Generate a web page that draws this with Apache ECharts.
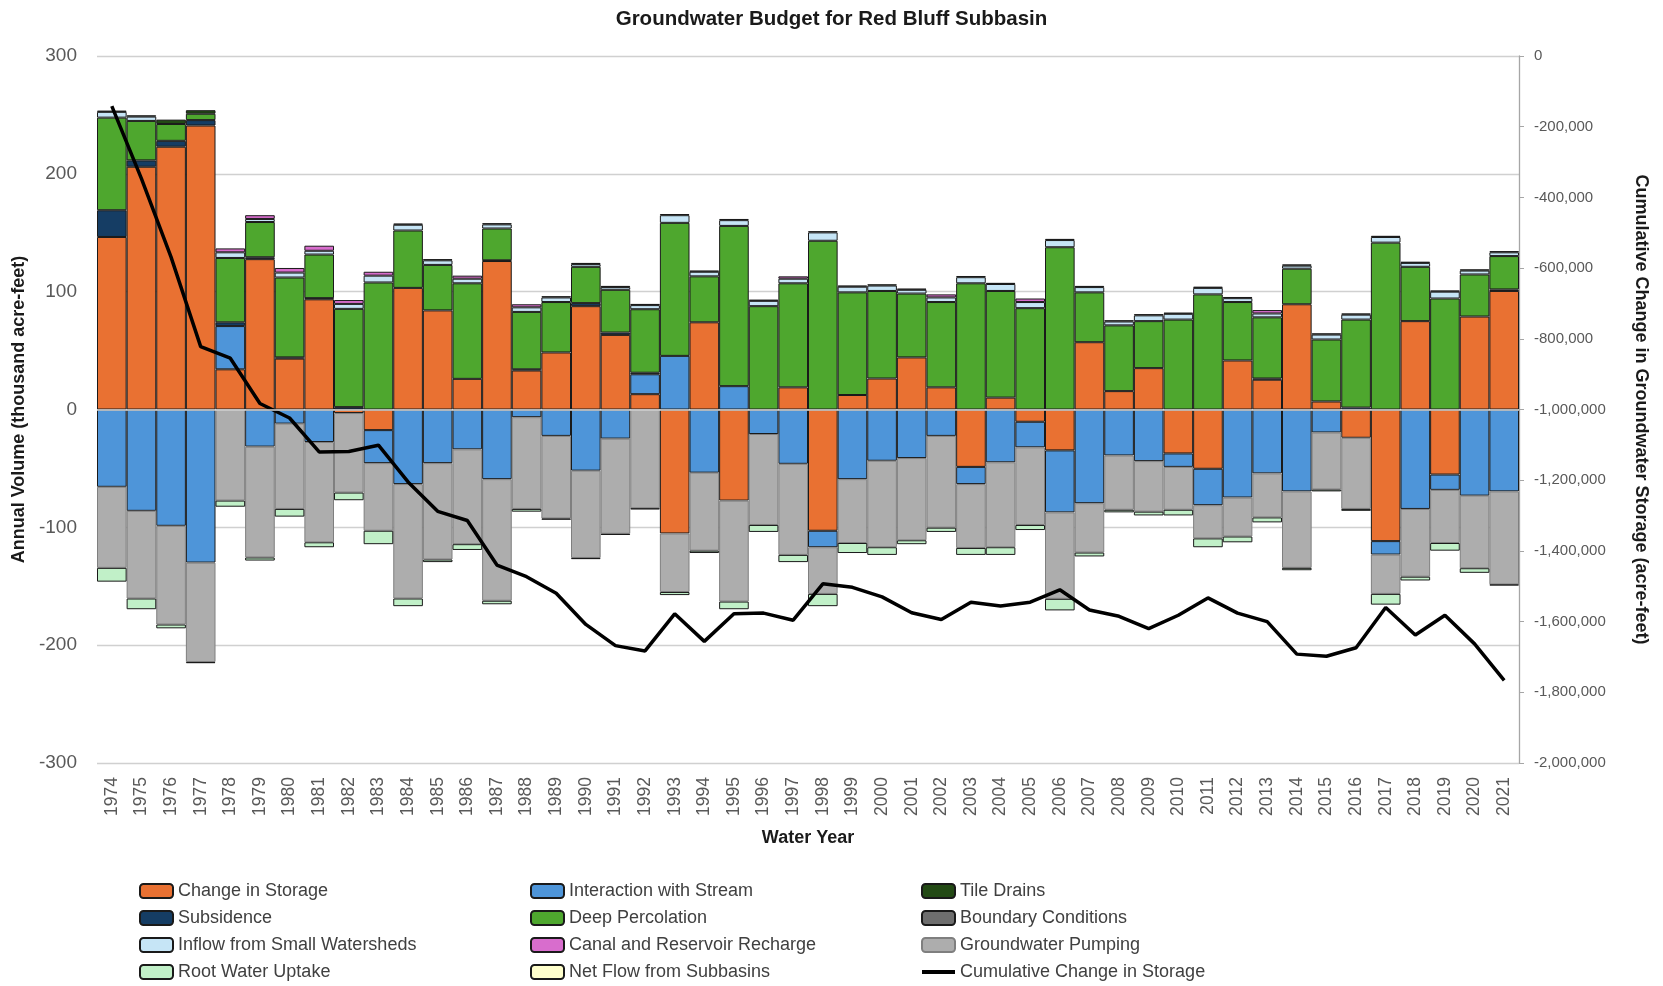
<!DOCTYPE html>
<html>
<head>
<meta charset="utf-8">
<title>Groundwater Budget for Red Bluff Subbasin</title>
<script src="https://cdn.jsdelivr.net/npm/echarts@6.0.0/dist/echarts.min.js"></script>
<style>
  html, body { margin: 0; padding: 0; background: #fff; }
  #chart { width: 1663px; height: 986px; }
</style>
</head>
<body>
<div id="chart"></div>
<script>
// water years on the category axis
var years = ['1974', '1975', '1976', '1977', '1978', '1979', '1980', '1981', '1982', '1983',
  '1984', '1985', '1986', '1987', '1988', '1989', '1990', '1991', '1992', '1993',
  '1994', '1995', '1996', '1997', '1998', '1999', '2000', '2001', '2002', '2003',
  '2004', '2005', '2006', '2007', '2008', '2009', '2010', '2011', '2012', '2013',
  '2014', '2015', '2016', '2017', '2018', '2019', '2020', '2021'];

// annual volumes, thousand acre-feet
var changeInStorage = [146.4, 206, 223, 241, 34.1, 127.6, 43.2, 93.5, -3, -17.5,
  103.2, 84.1, 26, 126, 33.1, 48.4, 87.7, 63.3, 13, -105.2,
  74, -77.3, 0, 18.8, -102.9, 12.3, 26.3, 44.2, 18.8, -48.7,
  10.1, -10.4, -34.7, 57.1, 15.6, 35.1, -37.3, -50.3, 41.6, 25.3,
  89.3, 6.8, -24, -111.7, 75, -55.2, 78.9, 100.6];
var interactionWithStream = [-65.6, -86, -98.7, -129.9, 36.7, -31.5, -12, -27.6, 0, -28,
  -63.3, -45.5, -33.8, -59.1, -6.5, -22.4, -51.9, -24.7, 16.9, 45.5,
  -53.6, 19.8, -20.8, -46.1, -14, -59.1, -43.5, -41.2, -22.4, -14.6,
  -44.8, -21.7, -52.6, -79.5, -39, -43.8, -11.4, -30.9, -74.7, -54.2,
  -69.5, -19.5, 1.6, -11.4, -84.4, -13, -73.1, -69.5];
var subsidence = [22.7, 5.4, 5, 4.6, 3.2, 1.6, 1, 1, 2, 0,
  0, 0, 0, 0.6, 1, 0, 2.6, 2, 1.3, 0,
  0, 0, 0, 0, 0, 0, 0, 0, 0, 0,
  0, 0, 0, 0, 0, 0, 0, 0, 0, 1,
  0, 0, 0, 0, 0, 0, 0, 1.3];
var deepPercolation = [78.6, 33.5, 14.3, 5.4, 54.6, 29.9, 67.8, 37, 83.4, 107.8,
  48.7, 38.6, 81.1, 27, 48.7, 42.8, 30.8, 36.3, 53.9, 112.9,
  39, 136, 87.7, 88.3, 143.2, 87.1, 74.3, 54.2, 72.4, 107.1,
  90.5, 86, 137.7, 42.3, 55.8, 39.9, 76.3, 97.7, 49.6, 51.9,
  30.2, 52.6, 74.7, 141.6, 46.1, 94.2, 35.7, 28.3];
var inflowSmallWatersheds = [4.9, 3.7, 0, 0, 4.8, 2.6, 4.2, 3.2, 4.2, 5.8,
  4.9, 3.9, 3.9, 3.5, 3.9, 3.9, 2.3, 2.3, 3.5, 6.5,
  3.9, 4.9, 4.5, 3.9, 7.1, 4.8, 4.6, 3.2, 3.9, 5.2,
  5.9, 5.2, 6.1, 4.5, 3.3, 4.9, 4.9, 5.5, 3.3, 3.3,
  2.6, 4.2, 4.2, 4.8, 3.3, 5.8, 3.3, 3.2];
var canalReservoirRecharge = [0, 0, 0, 0, 3.3, 3.2, 3.9, 4.3, 3.3, 3.3,
  0, 0, 2.6, 0, 2.6, 0, 0, 0, 0, 0,
  0, 0, 0, 2, 0, 0, 0, 0, 2.6, 0,
  0, 3, 0, 0, 0, 0, 0, 0, 0, 2.9,
  0, 0, 0, 0, 0, 0, 0, 0];
var tileDrains = [1, 1, 3.7, 3, 0, 0, 0, 0, 0, 0,
  1, 1, 0, 1, 0, 1, 1, 1, 1, 1,
  1, 1, 1, 0, 1, 1, 1, 1, 0, 1,
  1, 0, 1, 1, 1, 1, 1, 1, 1, 0,
  1, 1, 1, 1, 1, 1, 1, 1];
var groundwaterPumping = [-68.8, -74.4, -83.8, -84.4, -77.3, -94.1, -72.4, -85.1, -67.5, -57.4,
  -97.1, -81.8, -80.5, -103.2, -77.9, -70.1, -74.1, -80.8, -83.8, -49.7,
  -66.2, -85.7, -77.2, -77.3, -39.6, -54.2, -73.4, -69.8, -77.9, -54.2,
  -72.1, -65.9, -73.4, -41.9, -46.1, -42.9, -36.4, -28.2, -33.1, -37.4,
  -64.9, -48.4, -60.4, -33.4, -57.5, -45.1, -61.6, -78.9];
var rootWaterUptake = [-11.7, -9.1, -3.2, 0, -5.2, -2.6, -6.5, -4.2, -6.5, -11.4,
  -6.5, -2.2, -4.9, -3, -2.3, 0, 0, 0, 0, -2.6,
  -2, -6.5, -5.9, -6.1, -10.4, -8.5, -6.5, -3.3, -3.6, -5.9,
  -6.5, -4.3, -9.8, -3.3, -2.2, -3.2, -4.8, -7.5, -4.9, -4.2,
  -2, -1.6, -1.6, -9.1, -3.2, -6.5, -3.9, 0];
var boundaryConditions = [0, 0, 0, -1, 0, 0, 0, 0, 0, 0,
  0, 0, 0, 0, 0, -1, -1, -1, -1, 0,
  0, 0, 0, 0, 0, 0, 0, 0, 0, 0,
  0, 0, 0, 0, 0, 0, 0, 0, 0, 0,
  0, 0, 0, 0, 0, 0, 0, -1];
var netFlowSubbasins = [0, 0, 0, 0, 0, 0, 0, 0, 0, 0,
  0, 0, 0, 0, 0, 0, 0, 0, 0, 0,
  0, 0, 0, 0, 0, 0, 0, 0, 0, 0,
  0, 0, 0, 0, 0, 0, 0, 0, 0, 0,
  0, 0, 0, 0, 0, 0, 0, 0];

// cumulative change in storage, acre-feet (right axis)
var cumulativeStorage = [-142000, -347000, -569000, -822000, -855000, -983000, -1024000, -1120000, -1119000, -1101000,
  -1205000, -1288000, -1314000, -1440000, -1473000, -1520000, -1608000, -1668000, -1683000, -1578000,
  -1656000, -1578000, -1576000, -1596000, -1493000, -1503000, -1530000, -1575000, -1594000, -1545000,
  -1556000, -1545000, -1510000, -1567000, -1585000, -1620000, -1582000, -1533000, -1576000, -1600000,
  -1692000, -1698000, -1674000, -1560000, -1638000, -1582000, -1663000, -1766000];

var leftTicks = { min: -300, max: 300, step: 100 };
var rightTicks = { min: -2000000, max: 0, step: 200000 };

var FONT = "'Liberation Sans', Arial, sans-serif";
var LINE_NAME = 'Cumulative Change in Storage';

// stacking order (bottom up / top down), with fill and outline
var barDefs = [
  ['Change in Storage', changeInStorage, '#E97132', '#1a1a1a'],
  ['Interaction with Stream', interactionWithStream, '#4E95D9', '#1a1a1a'],
  ['Subsidence', subsidence, '#153D64', '#1a1a1a'],
  ['Deep Percolation', deepPercolation, '#4EA72E', '#1a1a1a'],
  ['Inflow from Small Watersheds', inflowSmallWatersheds, '#C6E5F6', '#1a1a1a'],
  ['Canal and Reservoir Recharge', canalReservoirRecharge, '#D86DCD', '#1a1a1a'],
  ['Tile Drains', tileDrains, '#234A15', '#1a1a1a'],
  ['Groundwater Pumping', groundwaterPumping, '#ADADAD', '#7f7f7f'],
  ['Root Water Uptake', rootWaterUptake, '#C1F0C8', '#1a1a1a'],
  ['Boundary Conditions', boundaryConditions, '#6E6E6E', '#1a1a1a'],
  ['Net Flow from Subbasins', netFlowSubbasins, '#FFFFCC', '#1a1a1a']
];

var series = barDefs.map(function (d, i) {
  var s = {
    name: d[0],
    type: 'bar',
    stack: 'budget',
    barCategoryGap: '0%',
    legendIcon: 'rect',
    itemStyle: { color: d[2], borderColor: d[3], borderWidth: 1 },
    emphasis: { disabled: true },
    data: d[1].map(function (v) { return v === 0 ? null : v; })
  };
  if (i === 0) {
    s.markLine = {
      silent: true,
      symbol: ['none', 'none'],
      label: { show: false },
      lineStyle: { color: '#d9d9d9', width: 1.5, type: 'solid' },
      data: [{ yAxis: 0 }]
    };
  }
  return s;
});

series.push({
  name: LINE_NAME,
  type: 'line',
  yAxisIndex: 1,
  symbol: 'none',
  z: 4,
  lineStyle: { color: '#000', width: 3.5 },
  itemStyle: { color: '#000' },
  emphasis: { disabled: true },
  data: cumulativeStorage
});

function legendCol(left, names) {
  return {
    orient: 'vertical',
    left: left,
    top: 882,
    height: 130,
    padding: 0,
    itemWidth: 33,
    itemHeight: 14,
    itemGap: 9,
    selectedMode: false,
    textStyle: { fontFamily: FONT, fontSize: 18, color: '#404040' },
    data: names.map(function (n) {
      // thick short bar for the line entry, like the source legend
      return n === LINE_NAME ? { name: n, icon: 'path://M0,0H33V4H0Z' } : n;
    })
  };
}

var chart = echarts.init(document.getElementById('chart'), null, { renderer: 'canvas' });
chart.setOption({
  animation: false,
  backgroundColor: '#fff',
  title: {
    text: 'Groundwater Budget for Red Bluff Subbasin',
    left: 'center',
    top: 4,
    padding: [5, 16, 5, 5],
    textStyle: { fontFamily: FONT, fontSize: 20.5, fontWeight: 'bold', color: '#1a1a1a' }
  },
  legend: [
    legendCol(139, ['Change in Storage', 'Subsidence', 'Inflow from Small Watersheds', 'Root Water Uptake']),
    legendCol(530, ['Interaction with Stream', 'Deep Percolation', 'Canal and Reservoir Recharge', 'Net Flow from Subbasins']),
    legendCol(921, ['Tile Drains', 'Boundary Conditions', 'Groundwater Pumping', LINE_NAME])
  ],
  grid: { left: 97, right: 144, top: 56, bottom: 223, outerBoundsMode: 'none' },
  xAxis: {
    type: 'category',
    data: years,
    name: 'Water Year',
    nameLocation: 'middle',
    nameGap: 66,
    nameTextStyle: { fontFamily: FONT, fontSize: 18, fontWeight: 'bold', color: '#1a1a1a' },
    axisLine: { show: false },
    axisTick: { show: false },
    axisLabel: { rotate: 90, interval: 0, margin: 14, fontFamily: FONT, fontSize: 17.5, color: '#595959' }
  },
  yAxis: [
    {
      type: 'value',
      min: leftTicks.min,
      max: leftTicks.max,
      interval: leftTicks.step,
      name: 'Annual Volume (thousand acre-feet)',
      nameLocation: 'middle',
      nameGap: 63,
      nameTextStyle: { fontFamily: FONT, fontSize: 18, fontWeight: 'bold', color: '#1a1a1a' },
      axisLine: { show: false },
      axisTick: { show: false },
      axisLabel: { margin: 20, fontFamily: FONT, fontSize: 19, color: '#595959' },
      splitLine: { lineStyle: { color: '#d0d0d0', width: 1.3 } }
    },
    {
      type: 'value',
      position: 'right',
      min: rightTicks.min,
      max: rightTicks.max,
      interval: rightTicks.step,
      name: 'Cumulative Change in Groundwater Storage (acre-feet)',
      nameLocation: 'middle',
      nameRotate: -90,
      nameGap: 113,
      nameTextStyle: { fontFamily: FONT, fontSize: 18, fontWeight: 'bold', color: '#1a1a1a' },
      axisLine: { show: true, lineStyle: { color: '#a6a6a6', width: 1.3 } },
      axisTick: { show: true, inside: false, length: 5, lineStyle: { color: '#a6a6a6' } },
      axisLabel: {
        margin: 15, fontFamily: FONT, fontSize: 15, color: '#595959',
        formatter: function (v) { return String(v).replace(/\B(?=(\d{3})+(?!\d))/g, ','); }
      },
      splitLine: { show: false }
    }
  ],
  series: series
});
</script>
</body>
</html>
